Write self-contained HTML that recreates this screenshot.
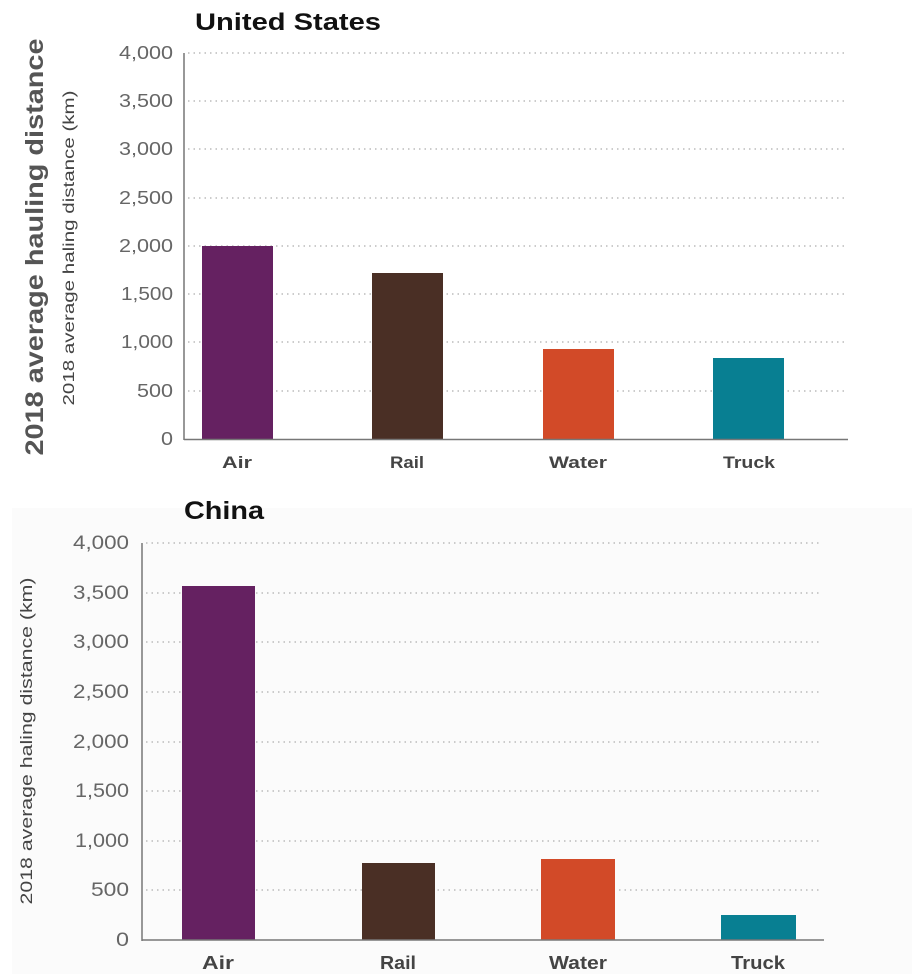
<!DOCTYPE html>
<html><head><meta charset="utf-8"><style>
html,body{margin:0;padding:0;background:#fff;}
svg{display:block;font-family:"Liberation Sans",sans-serif;}
</style></head><body>
<svg width="922" height="979" viewBox="0 0 922 979" xmlns="http://www.w3.org/2000/svg">
<rect x="0" y="0" width="922" height="979" fill="#fff"/>
<rect x="12" y="508" width="900" height="466" fill="#fbfbfb"/>
<!-- US -->
<text x="195" y="30" font-size="24" font-weight="bold" fill="#111" textLength="186" lengthAdjust="spacingAndGlyphs">United States</text>
<text transform="translate(43,247) rotate(-90)" text-anchor="middle" font-size="25" font-weight="bold" fill="#555" textLength="417" lengthAdjust="spacingAndGlyphs">2018 average hauling distance</text>
<text transform="translate(74,248) rotate(-90)" text-anchor="middle" font-size="16" fill="#444" textLength="315" lengthAdjust="spacingAndGlyphs">2018 average haling distance (km)</text>
<g stroke="#bbb" stroke-width="1.5" stroke-dasharray="1.5 4">
<line x1="188" x2="845" y1="53" y2="53"/><line x1="188" x2="845" y1="101" y2="101"/>
<line x1="188" x2="845" y1="149" y2="149"/><line x1="188" x2="845" y1="198" y2="198"/>
<line x1="188" x2="845" y1="246" y2="246"/><line x1="188" x2="845" y1="294" y2="294"/>
<line x1="188" x2="845" y1="342" y2="342"/><line x1="188" x2="845" y1="391" y2="391"/>
</g>
<g font-size="18" fill="#666" text-anchor="end">
<text x="173" y="59" textLength="54" lengthAdjust="spacingAndGlyphs">4,000</text><text x="173" y="107" textLength="54" lengthAdjust="spacingAndGlyphs">3,500</text><text x="173" y="155" textLength="54" lengthAdjust="spacingAndGlyphs">3,000</text>
<text x="173" y="204" textLength="54" lengthAdjust="spacingAndGlyphs">2,500</text><text x="173" y="252" textLength="54" lengthAdjust="spacingAndGlyphs">2,000</text><text x="173" y="300" textLength="52" lengthAdjust="spacingAndGlyphs">1,500</text>
<text x="173" y="348" textLength="52" lengthAdjust="spacingAndGlyphs">1,000</text><text x="173" y="397" textLength="36" lengthAdjust="spacingAndGlyphs">500</text><text x="173" y="445" textLength="12" lengthAdjust="spacingAndGlyphs">0</text>
</g>
<rect x="202" y="246" width="71" height="193" fill="#652161"/>
<rect x="372" y="273" width="71" height="166" fill="#4a2f25"/>
<rect x="543" y="349" width="71" height="90" fill="#d24a28"/>
<rect x="713" y="358" width="71" height="81" fill="#087f92"/>
<line x1="184" y1="53" x2="184" y2="440" stroke="#777" stroke-width="1.5"/>
<line x1="184" y1="439.5" x2="848" y2="439.5" stroke="#777" stroke-width="1.5"/>
<g font-size="17" font-weight="bold" fill="#444" text-anchor="middle">
<text x="237" y="468" textLength="30" lengthAdjust="spacingAndGlyphs">Air</text><text x="407" y="468" textLength="34" lengthAdjust="spacingAndGlyphs">Rail</text><text x="578" y="468" textLength="58" lengthAdjust="spacingAndGlyphs">Water</text><text x="749" y="468" textLength="52" lengthAdjust="spacingAndGlyphs">Truck</text>
</g>
<!-- China -->
<text x="184" y="519" font-size="25" font-weight="bold" fill="#111" textLength="80" lengthAdjust="spacingAndGlyphs">China</text>
<text transform="translate(32,741) rotate(-90)" text-anchor="middle" font-size="17" fill="#444" textLength="327" lengthAdjust="spacingAndGlyphs">2018 average haling distance (km)</text>
<g stroke="#bbb" stroke-width="1.5" stroke-dasharray="1.5 4">
<line x1="146" x2="820" y1="543" y2="543"/><line x1="146" x2="820" y1="593" y2="593"/>
<line x1="146" x2="820" y1="642" y2="642"/><line x1="146" x2="820" y1="692" y2="692"/>
<line x1="146" x2="820" y1="742" y2="742"/><line x1="146" x2="820" y1="791" y2="791"/>
<line x1="146" x2="820" y1="841" y2="841"/><line x1="146" x2="820" y1="890" y2="890"/>
</g>
<g font-size="19" fill="#666" text-anchor="end">
<text x="129" y="549" textLength="56" lengthAdjust="spacingAndGlyphs">4,000</text><text x="129" y="599" textLength="56" lengthAdjust="spacingAndGlyphs">3,500</text><text x="129" y="648" textLength="56" lengthAdjust="spacingAndGlyphs">3,000</text>
<text x="129" y="698" textLength="56" lengthAdjust="spacingAndGlyphs">2,500</text><text x="129" y="748" textLength="56" lengthAdjust="spacingAndGlyphs">2,000</text><text x="129" y="797" textLength="54" lengthAdjust="spacingAndGlyphs">1,500</text>
<text x="129" y="847" textLength="54" lengthAdjust="spacingAndGlyphs">1,000</text><text x="129" y="896" textLength="38" lengthAdjust="spacingAndGlyphs">500</text><text x="129" y="946" textLength="13" lengthAdjust="spacingAndGlyphs">0</text>
</g>
<rect x="182" y="586" width="73" height="354" fill="#652161"/>
<rect x="362" y="863" width="73" height="77" fill="#4a2f25"/>
<rect x="541" y="859" width="74" height="81" fill="#d24a28"/>
<rect x="721" y="915" width="75" height="25" fill="#087f92"/>
<line x1="142" y1="543" x2="142" y2="941" stroke="#777" stroke-width="1.5"/>
<line x1="142" y1="940" x2="824" y2="940" stroke="#777" stroke-width="1.5"/>
<g font-size="18" font-weight="bold" fill="#444" text-anchor="middle">
<text x="218" y="969" textLength="32" lengthAdjust="spacingAndGlyphs">Air</text><text x="398" y="969" textLength="36" lengthAdjust="spacingAndGlyphs">Rail</text><text x="578" y="969" textLength="58" lengthAdjust="spacingAndGlyphs">Water</text><text x="758" y="969" textLength="54" lengthAdjust="spacingAndGlyphs">Truck</text>
</g>
</svg>
</body></html>
